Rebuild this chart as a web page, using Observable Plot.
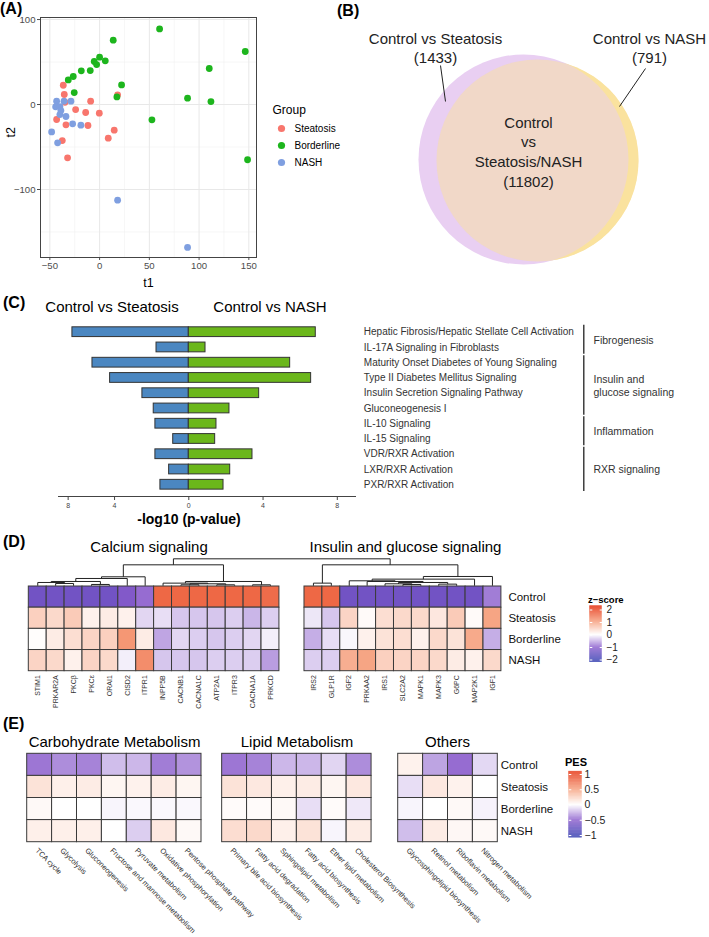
<!DOCTYPE html>
<html><head><meta charset="utf-8">
<script src="https://cdn.jsdelivr.net/npm/d3@7"></script>
<script src="https://cdn.jsdelivr.net/npm/@observablehq/plot@0.6"></script>
<style>
body{margin:0;background:#fff;font-family:"Liberation Sans",Arial,Helvetica,sans-serif;}
#fig{position:relative;width:709px;height:937px;overflow:hidden;background:#fff;}
</style></head><body><div id="fig"></div>
<script>
// ---------------- DATA ----------------
// (A) scatter
const groups = ["Steatosis","Borderline","NASH"];
const groupColors = ["#F8766D","#1DB51D","#7F9FE0"];
const steatosisT1 = [-36.5,-35.5,18.1,-34.8,-9,-24.1,-14,-0.3,-43.2,-33.8,-11.7,14.7,8.7,-37.5,-32.2];
const steatosisT2 = [22.7,11.8,11.4,2.7,3.9,-5.9,-9.4,-10.2,-17.6,-23.9,-24.7,-30.2,-39.6,-42.4,-62.7];
const borderlineT1 = [60.3,13.7,146.4,110.2,0,-5.4,5.7,-3,-18.4,-9.4,-26.5,-31.5,22.1,-25.5,17.4,88.4,111.9,52.6,148.7];
const borderlineT2 = [89,75.7,62.4,42.4,55.7,50.6,51.4,47,39.6,40,33,29,23.1,14.1,9,7.5,3.5,-18,-65];
const nashT1 = [-43.2,-35.8,-28.8,-44.2,-39.9,-38.9,-39.9,-33.8,-27.1,-18.8,-48.2,-42.2,18.1,88.4];
const nashT2 = [3.9,3.9,3.9,-2.7,-2.4,-7.1,-11.8,-14.1,-22.7,-24.3,-32.2,-45.1,-112.5,-168.2];
const scatterXTicks = [-50,0,50,100,150];
const scatterYTicks = [-100,0,100];

// (B) venn
const vennSets = ["Control vs Steatosis","Control vs NASH"];
const vennCounts = [1433, 791];
const vennOverlapName = "Control\nvs\nSteatosis/NASH";
const vennOverlapCount = 11802;
const vennColors = ["#E9CFF2","#FAE29E"];

// (C) pathways
const pathways = ["Hepatic Fibrosis/Hepatic Stellate Cell Activation","IL-17A Signaling in Fibroblasts",
 "Maturity Onset Diabetes of Young Signaling","Type II Diabetes Mellitus Signaling","Insulin Secretion Signaling Pathway",
 "Gluconeogenesis I","IL-10 Signaling","IL-15 Signaling","VDR/RXR Activation","LXR/RXR Activation","PXR/RXR Activation"];
const pathwayGroup = ["Fibrogenesis","Fibrogenesis","Insulin and\nglucose signaling","Insulin and\nglucose signaling",
 "Insulin and\nglucose signaling","Insulin and\nglucose signaling","Inflammation","Inflammation","RXR signaling","RXR signaling","RXR signaling"];
const steatosisLogP = [6.27,1.74,5.19,4.24,2.50,1.89,1.80,0.84,1.80,1.06,1.53];
const nashLogP = [6.84,0.90,5.46,6.59,3.79,2.19,1.49,1.42,3.43,2.23,1.87];
const comparisons = ["Control vs Steatosis","Control vs NASH"];
const barColors = ["#4B87C1","#6BB71B"];
const cTickValues = [-6.5,-4,0,4,8];
const cTickLabels = ["8","4","0","4","8"];

// (D) z-score heatmaps
const samples = ["Control","Steatosis","Borderline","NASH"];
const calciumGenes = ["STIM1","PRKAR2A","PKCβ","PKCε","ORAI1","CISD2","ITPR1","INPP5B","CACNB1","CACNA1C","ATP2A1","ITPR3","CACNA1A","PRKCD"];
const insulinGenes = ["IRS2","GLP1R","IGF2","PRKAA2","IRS1","SLC2A2","MAPK1","MAPK3","G6PC","MAP2K1","IGF1"];
const calciumZ = [
 [-1.3,-1.3,-1.3,-1.3,-1.3,-1.1,-0.9,1.6,1.6,1.6,1.6,1.6,1.6,1.55],
 [0.5,0.4,0.55,0.15,0.2,0.15,-0.25,-0.2,-0.35,-0.35,-0.35,-0.3,-0.45,-0.3],
 [0.02,0.2,0.35,0.45,0.5,1.1,0.2,-0.55,-0.25,-0.3,-0.35,-0.3,-0.25,-0.1],
 [0.45,0.4,0.15,0.45,0.4,-0.1,1.2,-0.35,-0.35,-0.35,-0.3,-0.3,-0.3,-0.6]];
const insulinZ = [
 [1.6,1.6,-1.3,-1.3,-1.3,-1.3,-1.3,-1.3,-1.3,-1.3,-0.8],
 [-0.15,-0.35,0.45,0.05,0.35,0.4,0.4,0.25,0.55,0.05,0.95],
 [-0.5,-0.2,-0.05,0.15,0.3,0.35,0.15,0.4,0.3,0.9,-0.5],
 [-0.3,-0.3,0.85,0.95,0.5,0.45,0.45,0.4,0.2,0.15,0.4]];
// dendrograms: [height, left, right], leaves are column indices
const calciumTree = [63,[27,[22,[13,[10,0,[7,1,2]],[4,3,4]],5],6],[13,[8,7,[6,[3,8,9],[3,10,11]]],[3,12,13]]];
const insulinTree = [63,[8,0,1],[28,[20,[15,2,[13,3,[10,[6,4,[4,5,6]],[5,7,8]]]],9],10]];
const treeJoinHeight = 81;
const zTicks = [2,1,0,-1,-2];
const zDomain = [-2,-1,0,1,2];
const heatRange = ["#3B3FB2","#8A5CCC","#FFFFFF","#F6A07E","#E8421F"];

// (E) PES heatmaps
const carboPathways = ["TCA cycle","Glycolysis","Gluconeogenesis","Fructose and mannose metabolism","Pyruvate metabolism","Oxidative phosphorylation","Pentose phosphate pathway"];
const lipidPathways = ["Primary bile acid biosynthesis","Fatty acid degradation","Sphingolipid metabolism","Fatty acid biosynthesis","Ether lipid metabolism","Cholesterol Biosynthesis"];
const otherPathways = ["Glycosphingolipid biosynthesis","Retinol metabolism","Riboflavin metabolism","Nitrogen metabolism"];
const carboPES = [
 [-0.42,-0.35,-0.38,-0.2,-0.22,-0.4,-0.33],
 [0.15,0.08,0.1,0.05,0.07,0.1,0.05],
 [0.03,0,0,-0.03,-0.02,-0.02,-0.02],
 [0.08,0.08,0.08,0,-0.15,0.12,0.03]];
const lipidPES = [
 [-0.42,-0.38,-0.22,-0.22,-0.13,-0.35],
 [0.15,0.12,0.08,0.1,0.05,0.12],
 [0.02,0.02,0.03,-0.1,0.02,-0.07],
 [0.18,0.2,0.08,0.15,-0.03,0.1]];
const otherPES = [
 [0.07,-0.28,-0.45,-0.12],
 [-0.1,0.12,0.07,0],
 [-0.03,0,0.03,-0.04],
 [-0.2,0.1,0.04,0.03]];
const pesTicks = [1,0.5,0,-0.5,-1];
const pesDomain = [-1,-0.5,0,0.5,1];

// ---------------- HELPERS ----------------
const FONT = '"Liberation Sans", Arial, Helvetica, sans-serif';
const fig = document.getElementById("fig");
function place(node, left, top){ node.style.position="absolute"; node.style.left=left+"px"; node.style.top=top+"px"; fig.appendChild(node); return node; }
function label(txt, x, y, o={}){
  const d=document.createElement("div"); d.textContent=txt;
  Object.assign(d.style,{position:"absolute",left:x+"px",top:y+"px",whiteSpace:"nowrap",lineHeight:"1",
    fontSize:(o.size||15)+"px",fontWeight:o.bold?"bold":"normal",color:o.color||"#000",
    transform:`translate(${o.anchor==="start"?"0":"-50%"},-50%)`});
  fig.appendChild(d);
}
const minusFmt = d => d < 0 ? "\u2212" + Math.abs(d) : String(d);
const ID = {type:"identity",axis:null};

// ---------------- (A) ----------------
const scatterData = [];
[[steatosisT1,steatosisT2],[borderlineT1,borderlineT2],[nashT1,nashT2]].forEach(([xs,ys],gi)=>
  xs.forEach((v,i)=>scatterData.push({group:groups[gi],t1:v,t2:ys[i]})));
const xMinor = scatterXTicks.slice(0,-1).map((v,i)=>(v+scatterXTicks[i+1])/2);
const yMinor = [-150,-50,50];
place(Plot.plot({
  width:336,height:290,marginLeft:40,marginRight:80,marginTop:17,marginBottom:33,
  style:{fontSize:"9.6px",color:"#4d4d4d",fontFamily:FONT,background:"transparent"},
  x:{domain:[-59.4,157.7],ticks:scatterXTicks,tickSize:3,tickPadding:2,label:null,tickFormat:minusFmt},
  y:{domain:[-180,102.4],ticks:scatterYTicks,tickSize:3,tickPadding:2,label:null,tickFormat:minusFmt},
  color:{domain:groups,range:groupColors},
  marks:[
    Plot.ruleX(xMinor,{stroke:"#f0f0f0",strokeWidth:0.6}),
    Plot.ruleY(yMinor,{stroke:"#f0f0f0",strokeWidth:0.6}),
    Plot.ruleX(scatterXTicks,{stroke:"#e8e8e8",strokeWidth:1}),
    Plot.ruleY(scatterYTicks,{stroke:"#e8e8e8",strokeWidth:1}),
    Plot.dot(scatterData,{x:"t1",y:"t2",fill:"group",r:3.4}),
    Plot.frame({stroke:"#444",strokeWidth:1}),
    Plot.text(["t1"],{text:d=>d,frameAnchor:"bottom",lineAnchor:"middle",dy:25,fontSize:12.5,fill:"#000"}),
    Plot.text(["t2"],{text:d=>d,frameAnchor:"left",lineAnchor:"middle",dx:-30,rotate:-90,fontSize:12.5,fill:"#000"})
  ]}),0,0);
place(Plot.plot({
  width:92,height:80,margin:0,style:{fontFamily:FONT,background:"transparent"},
  x:ID,y:ID,color:{domain:groups,range:groupColors},
  marks:[
    Plot.text(["Group"],{text:d=>d,x:10,y:15,textAnchor:"start",fontSize:12,fill:"#000"}),
    Plot.dot(groups,{x:19,y:(d,i)=>33+i*17,fill:d=>d,r:3.6}),
    Plot.text(groups,{text:d=>d,x:32,y:(d,i)=>33+i*17,textAnchor:"start",fontSize:10,fill:"#000"})
  ]}),262,95);

// ---------------- (B) ----------------
const vennLayout = [{x:177,y:160,r:101},{x:163,y:159,r:105}]; // NASH circle, Steatosis circle
place(Plot.plot({
  width:349,height:275,margin:0,style:{fontFamily:FONT,background:"transparent"},
  x:ID,y:ID,r:{type:"identity"},
  marks:[
    Plot.dot([vennLayout[0]],{x:"x",y:"y",r:"r",fill:vennColors[1]}),
    Plot.dot([vennLayout[1]],{x:"x",y:"y",r:"r",fill:vennColors[0]}),
    Plot.dot([vennLayout[0]],{x:"x",y:"y",r:"r",fill:vennColors[1],fillOpacity:0.5}),
    Plot.link([{x1:80,y1:65,x2:85,y2:101},{x1:285,y1:68,x2:259,y2:106}],{x1:"x1",y1:"y1",x2:"x2",y2:"y2",stroke:"#222",strokeWidth:1}),
    Plot.text(vennSets,{text:(d,i)=>`${d}\n(${vennCounts[i]})`,x:(d,i)=>[75,289][i],y:46.5,fontSize:15,lineHeight:1.27,fill:"#222"}),
    Plot.text([vennOverlapName],{text:d=>`${d}\n(${vennOverlapCount})`,x:168,y:150.5,fontSize:15,lineHeight:1.31,fill:"#222"})
  ]}),360,0);

// ---------------- (C) ----------------
const cRows = pathways.map((p,i)=>({i,name:p,group:pathwayGroup[i],steatosis:steatosisLogP[i],nash:nashLogP[i]}));
const cY = {domain:[-1.094,10.77],reverse:true,axis:null};
const tickMap = new Map(cTickValues.map((v,i)=>[v,cTickLabels[i]]));
label(comparisons[0],112,306,{size:15});
label(comparisons[1],270,306,{size:15});
place(Plot.plot({
  width:360,height:230,marginLeft:58,marginRight:5,marginTop:30,marginBottom:19,
  style:{fontSize:"7px",color:"#444",fontFamily:FONT,background:"transparent"},
  x:{domain:[-7.02,8.98],ticks:cTickValues,tickFormat:d=>tickMap.get(d),tickSize:4,tickPadding:3,line:true,label:null},
  y:cY,
  marks:[
    Plot.rect(cRows,{x1:0,x2:d=>-d.steatosis,y1:d=>d.i-0.32,y2:d=>d.i+0.32,fill:barColors[0],stroke:"#333",strokeWidth:1}),
    Plot.rect(cRows,{x1:0,x2:d=>d.nash,y1:d=>d.i-0.32,y2:d=>d.i+0.32,fill:barColors[1],stroke:"#333",strokeWidth:1})
  ]}),0,285);
label("-log10 (p-value)",189,519,{size:14,bold:true});
const groupExtents = Array.from(d3.group(cRows,d=>d.group),([g,rs])=>({group:g,first:d3.min(rs,r=>r.i),last:d3.max(rs,r=>r.i)}));
place(Plot.plot({
  width:354,height:230,marginLeft:0,marginRight:0,marginTop:30,marginBottom:19,
  style:{fontFamily:FONT,background:"transparent"},
  x:ID,y:cY,
  marks:[
    Plot.text(cRows,{x:8.3,y:"i",text:"name",textAnchor:"start",fontSize:10,fill:"#333"}),
    Plot.ruleX(groupExtents,{x:228.3,y1:d=>d.first-0.45,y2:d=>d.last+0.45,stroke:"#222",strokeWidth:1.3}),
    Plot.text(groupExtents,{x:238,y:d=>(d.first+d.last)/2,text:"group",textAnchor:"start",fontSize:10.5,lineHeight:1.17,fill:"#333"})
  ]}),355,285);

// ---------------- (D) ----------------
const insulinOffset = 15.4;
const dX = {domain:[0,26.4],range:[28.3,500.9],axis:null};
const dCells = [];
samples.forEach((s,r)=>{
  calciumGenes.forEach((g,c)=>dCells.push({x:c,row:r,z:calciumZ[r][c]}));
  insulinGenes.forEach((g,c)=>dCells.push({x:insulinOffset+c,row:r,z:insulinZ[r][c]}));
});
const dCols = calciumGenes.map((g,c)=>({g,x:c})).concat(insulinGenes.map((g,c)=>({g,x:insulinOffset+c})));
const segs = [];
function dendro(tree, offset){
  function walk(n){
    if (typeof n === "number") return {x:offset+n+0.5,h:0};
    const [h,a,b]=n; const A=walk(a), B=walk(b);
    segs.push({x1:A.x,y1:h,x2:B.x,y2:h});
    segs.push({x1:A.x,y1:A.h,x2:A.x,y2:h});
    segs.push({x1:B.x,y1:B.h,x2:B.x,y2:h});
    return {x:(A.x+B.x)/2,h};
  }
  return walk(tree);
}
const rootL = dendro(calciumTree,0), rootR = dendro(insulinTree,insulinOffset);
segs.push({x1:rootL.x,y1:treeJoinHeight,x2:rootR.x,y2:treeJoinHeight});
segs.push({x1:rootL.x,y1:rootL.h,x2:rootL.x,y2:treeJoinHeight});
segs.push({x1:rootR.x,y1:rootR.h,x2:rootR.x,y2:treeJoinHeight});
label("Calcium signaling",149,545.5,{size:15});
label("Insulin and glucose signaling",405.5,545.5,{size:15});
place(Plot.plot({
  width:709,height:35,margin:0,style:{background:"transparent"},
  x:dX,y:{domain:[0,100],range:[33.3,0],axis:null},
  marks:[Plot.link(segs,{x1:"x1",y1:"y1",x2:"x2",y2:"y2",stroke:"#222",strokeWidth:1})]
}),0,552);
const zColor = {type:"linear",domain:zDomain,range:heatRange};
place(Plot.plot({
  width:709,height:134,margin:0,style:{fontFamily:FONT,background:"transparent"},
  x:dX,y:{domain:[0,4],range:[6,90.7],axis:null},color:zColor,
  marks:[
    Plot.rect(dCells,{x1:"x",x2:d=>d.x+1,y1:"row",y2:d=>d.row+1,fill:"z",stroke:"#3a3a3a",strokeWidth:1}),
    Plot.text(dCols,{x:d=>d.x+0.5,y:4,dy:4,text:"g",rotate:-90,textAnchor:"end",fontSize:7,fill:"#333"}),
    Plot.text(samples,{x:26.4,dx:7,y:(d,i)=>i+0.5,text:d=>d,textAnchor:"start",fontSize:11.5,fill:"#111"})
  ]}),0,580);
// z legend
label("z\u2212score",588,599.5,{size:9.5,bold:true,anchor:"start"});
const zSteps = d3.range(-2.2,2.28,0.04);
place(Plot.plot({
  width:70,height:80,margin:0,style:{fontFamily:FONT,background:"transparent"},
  x:ID,y:{domain:[-2,2],range:[69.5,19.5],axis:null},color:zColor,
  marks:[
    Plot.rect(zSteps,{x1:19.3,x2:31.7,y1:d=>d,y2:d=>d+0.045,fill:d=>d+0.02}),
    Plot.link(zTicks,{x1:19.3,x2:21.8,y1:d=>d,y2:d=>d,stroke:"white",strokeWidth:1}),
    Plot.link(zTicks,{x1:29.2,x2:31.7,y1:d=>d,y2:d=>d,stroke:"white",strokeWidth:1}),
    Plot.text(zTicks,{x:36,y:d=>d,text:minusFmt,textAnchor:"start",fontSize:10,fill:"#222"})
  ]}),570,590);

// ---------------- (E) ----------------
const eBlocks = [
  {title:"Carbohydrate Metabolism",names:carboPathways,values:carboPES,offset:0},
  {title:"Lipid Metabolism",names:lipidPathways,values:lipidPES,offset:7.83},
  {title:"Others",names:otherPathways,values:otherPES,offset:14.9}];
const eCells = [], eCols = [];
eBlocks.forEach(b=>{
  b.names.forEach((n,c)=>{
    eCols.push({n,x:b.offset+c});
    samples.forEach((s,r)=>eCells.push({x:b.offset+c,row:r,v:b.values[r][c]}));
  });
});
label(eBlocks[0].title,114.5,741,{size:15});
label(eBlocks[1].title,297,741,{size:15});
label(eBlocks[2].title,447.5,741,{size:15});
const pesColor = {type:"linear",domain:pesDomain,range:heatRange};
place(Plot.plot({
  width:709,height:192,margin:0,style:{fontFamily:FONT,background:"transparent"},
  x:{domain:[0,18.9],range:[26.7,497.3],axis:null},y:{domain:[0,4],range:[8.3,96.7],axis:null},color:pesColor,
  marks:[
    Plot.rect(eCells,{x1:"x",x2:d=>d.x+1,y1:"row",y2:d=>d.row+1,fill:"v",stroke:"#3a3a3a",strokeWidth:1}),
    Plot.text(eCols,{x:d=>d.x+0.5,y:4,dx:-3,dy:7,text:"n",rotate:45,textAnchor:"start",fontSize:7.5,fill:"#333"}),
    Plot.text(samples,{x:18.9,dx:3,y:(d,i)=>i+0.5,text:d=>d,textAnchor:"start",fontSize:11.5,fill:"#111"})
  ]}),0,745);
label("PES",565,762,{size:11,bold:true,anchor:"start"});
const pSteps = d3.range(-1.08,1.1,0.02);
place(Plot.plot({
  width:70,height:90,margin:0,style:{fontFamily:FONT,background:"transparent"},
  x:ID,y:{domain:[-1,1],range:[80,19],axis:null},color:pesColor,
  marks:[
    Plot.rect(pSteps,{x1:13.3,x2:26.7,y1:d=>d,y2:d=>d+0.022,fill:d=>d+0.01}),
    Plot.link(pesTicks,{x1:13.3,x2:15.8,y1:d=>d,y2:d=>d,stroke:"white",strokeWidth:1}),
    Plot.link(pesTicks,{x1:24.2,x2:26.7,y1:d=>d,y2:d=>d,stroke:"white",strokeWidth:1}),
    Plot.text(pesTicks,{x:29,y:d=>d,text:minusFmt,textAnchor:"start",fontSize:10.5,fill:"#222"})
  ]}),555,755);

// panel letters (added last so they sit on top)
label("(A)",0,9,{bold:true,size:16,anchor:"start"});
label("(B)",337,11,{bold:true,size:16,anchor:"start"});
label("(C)",3,303,{bold:true,size:16,anchor:"start"});
label("(D)",3,542,{bold:true,size:16,anchor:"start"});
label("(E)",3,724,{bold:true,size:16,anchor:"start"});
</script>
</body></html>
